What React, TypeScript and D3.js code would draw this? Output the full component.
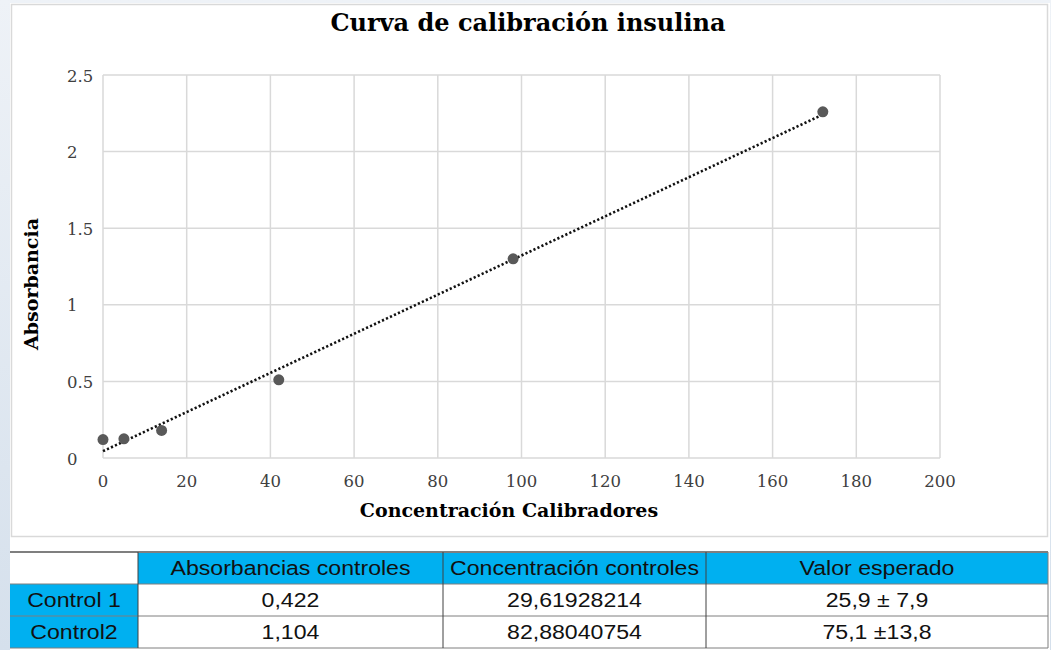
import React from "react";
import * as d3 from "d3";

const concentrations = [0, 5, 14, 42, 98, 172];
const absorbances = [0.12, 0.125, 0.18, 0.51, 1.3, 2.26];
const xTicks = [0, 20, 40, 60, 80, 100, 120, 140, 160, 180, 200];
const yTicks = [0, 0.5, 1, 1.5, 2, 2.5];
const yTickLabels = ["0", "0.5", "1", "1.5", "2", "2.5"];

const tableHeaders = ["", "Absorbancias controles", "Concentración controles", "Valor esperado"];
const controlNames = ["Control 1", "Control2"];
const controlAbsorbances = ["0,422", "1,104"];
const controlConcentrations = ["29,61928214", "82,88040754"];
const expectedValues = ["25,9 ± 7,9", "75,1 ±13,8"];

const W = 1051;
const H = 650;

export default function App() {
  const x = d3.scaleLinear().domain([0, 200]).range([103, 940]);
  const y = d3.scaleLinear().domain([0, 2.5]).range([458, 75]);

  // least squares trend line
  const mx = d3.mean(concentrations)!;
  const my = d3.mean(absorbances)!;
  let sxy = 0, sxx = 0;
  concentrations.forEach((c, i) => {
    sxy += (c - mx) * (absorbances[i] - my);
    sxx += (c - mx) * (c - mx);
  });
  const slope = sxy / sxx;
  const intercept = my - slope * mx;
  const xMin = d3.min(concentrations)!;
  const xMax = d3.max(concentrations)!;
  const trend = d3.line<number>().x((c) => x(c)).y((c) => y(intercept + slope * c));

  const serif = "'DejaVu Serif', 'Liberation Serif', serif";
  const sans = "'Liberation Sans', Arial, sans-serif";

  const colX = [10, 138, 443, 706, 1048];
  const rowY = [552, 584, 616, 648];
  const blue = "#00b0f0";

  const rows = controlNames.map((n, i) => [n, controlAbsorbances[i], controlConcentrations[i], expectedValues[i]]);

  return (
    <svg width={W} height={H} style={{ position: "absolute", left: 0, top: 0 }}>
      <defs>
        <linearGradient id="bg" x1="0" y1="0" x2="0" y2="1">
          <stop offset="0" stopColor="#eef2f7" />
          <stop offset="1" stopColor="#d5e0ec" />
        </linearGradient>
      </defs>
      <rect x={0} y={0} width={W} height={H} fill="url(#bg)" />
      <rect x={10} y={3} width={1040} height={H - 3} fill="#ffffff" />
      <rect x={11.5} y={4.5} width={1036} height={532} fill="#ffffff" stroke="#d9d9d9" strokeWidth={1.5} />

      {/* gridlines */}
      {xTicks.map((t) => (
        <line key={"gx" + t} x1={x(t)} x2={x(t)} y1={y(0)} y2={y(2.5)} stroke="#d9d9d9" strokeWidth={1.5} />
      ))}
      {yTicks.map((t) => (
        <line key={"gy" + t} x1={x(0)} x2={x(200)} y1={y(t)} y2={y(t)} stroke="#d9d9d9" strokeWidth={1.5} />
      ))}

      {/* tick labels */}
      {yTicks.map((t, i) => (
        <text key={"ty" + t} x={67} y={y(t) + 2} dominantBaseline="middle" fontFamily={serif} fontSize={16.5} fill="#404040">
          {yTickLabels[i]}
        </text>
      ))}
      {xTicks.map((t) => (
        <text key={"tx" + t} x={x(t)} y={482} textAnchor="middle" dominantBaseline="middle" fontFamily={serif} fontSize={16.5} fill="#404040">
          {t}
        </text>
      ))}

      {/* trend line */}
      <path d={trend([xMin, xMax])!} fill="none" stroke="#111" strokeWidth={2.6} strokeDasharray="2.2,2.2" />

      {/* points */}
      {concentrations.map((c, i) => (
        <circle key={"p" + i} cx={x(c)} cy={y(absorbances[i])} r={5.5} fill="#595959" />
      ))}

      {/* titles */}
      <text x={528} y={24} textAnchor="middle" dominantBaseline="middle" fontFamily={serif} fontWeight="bold" fontSize={24} fill="#000">
        Curva de calibración insulina
      </text>
      <text x={509} y={512} textAnchor="middle" dominantBaseline="middle" fontFamily={serif} fontWeight="bold" fontSize={19} fill="#000">
        Concentración Calibradores
      </text>
      <text transform={`translate(33,284) rotate(-90)`} textAnchor="middle" dominantBaseline="middle" fontFamily={serif} fontWeight="bold" fontSize={19} fill="#000">
        Absorbancia
      </text>

      {/* table */}
      {[tableHeaders, ...rows].map((row, r) =>
        row.map((cell, c) => {
          const isBlue = (r === 0 && c > 0) || (r > 0 && c === 0);
          const cx = (colX[c] + colX[c + 1]) / 2;
          const cy = (rowY[r] + rowY[r + 1]) / 2 + 1.5;
          return (
            <g key={`c${r}-${c}`}>
              <rect x={colX[c]} y={rowY[r]} width={colX[c + 1] - colX[c]} height={rowY[r + 1] - rowY[r]} fill={isBlue ? blue : "#ffffff"} />
              <text
                transform={`translate(${cx},${cy}) scale(1.1,1)`}
                textAnchor="middle"
                dominantBaseline="middle"
                fontFamily={sans}
                fontSize={21}
                fill="#111"
              >
                {cell}
              </text>
            </g>
          );
        })
      )}
      {rowY.map((ry, i) => (
        <line key={"hl" + i} x1={colX[0]} x2={colX[4]} y1={ry} y2={ry} stroke="#7f7f7f" strokeWidth={i === 0 ? 2 : 1} />
      ))}
      {colX.slice(1, 4).map((cx, i) => (
        <line key={"vl" + i} x1={cx} x2={cx} y1={rowY[0]} y2={rowY[3]} stroke="#404040" strokeWidth={1} />
      ))}
      <line x1={colX[4]} x2={colX[4]} y1={rowY[0]} y2={rowY[3]} stroke="#7f7f7f" strokeWidth={1} />
    </svg>
  );
}
